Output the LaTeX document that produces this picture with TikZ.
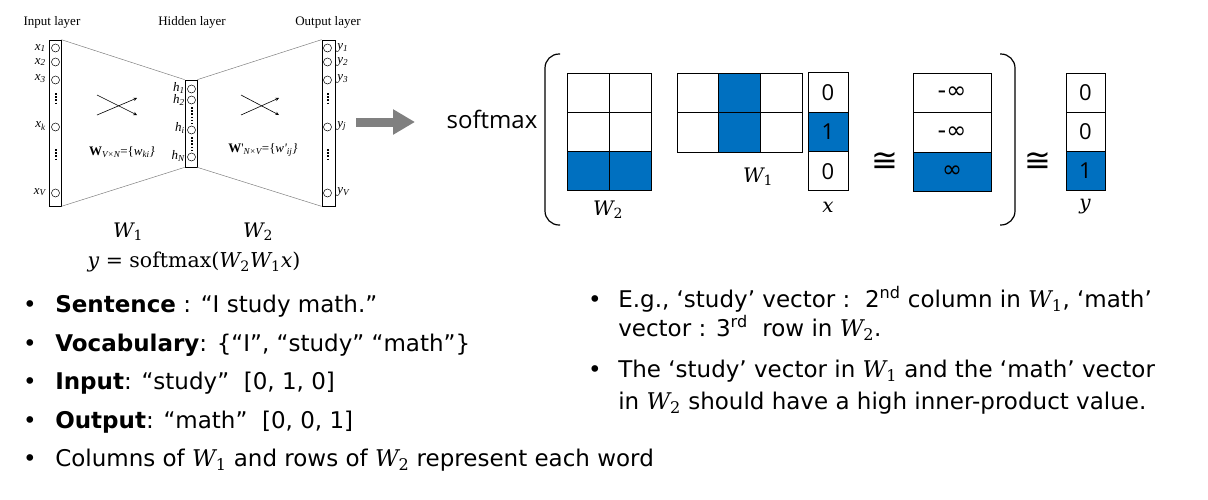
\documentclass[tikz,border=0pt]{standalone}
\usepackage{fontspec}
\setmainfont{DejaVu Sans}
\newfontfamily\netfont{Liberation Serif}
\newfontfamily\eqfont{DejaVu Serif}
\newfontfamily\smfont{Open Sans}
\usetikzlibrary{arrows.meta,positioning}
\definecolor{cellblue}{RGB}{0,112,192}
\definecolor{arrowgray}{RGB}{128,128,128}
\newcommand{\nl}[2]{{\itshape #1\textsubscript{#2}}}
\newcommand{\mv}[2]{{\eqfont\itshape #1}\textsubscript{\eqfont #2}}
\newcommand{\ms}[1]{{\eqfont\itshape #1}}
\begin{document}
\begin{tikzpicture}[x=1pt,y=-1pt,>=stealth,line width=0.6pt,
  layerbox/.style={draw,line width=0.7pt,inner sep=0pt,minimum width=12pt},
  unit/.style={draw,circle,inner sep=0pt,minimum size=8pt,line width=0.5pt},
  dots/.style={line width=2pt,dash pattern=on 1.6pt off 1.6pt},
  netlab/.style={inner sep=1pt,font=\netfont\fontsize{13}{15}\selectfont},
  cell/.style={draw,line width=1pt,inner sep=0pt,font=\smfont\fontsize{22}{24}\selectfont},
  bluecell/.style={cell,fill=cellblue},
  mlab/.style={inner sep=0pt,font=\fontsize{20}{24}\selectfont},
  congsym/.style={inner sep=0pt,font=\fontsize{32}{34}\selectfont},
  txt/.style={anchor=west,inner sep=0pt,text height=18pt,text depth=5pt,font=\fontsize{23}{28}\selectfont}]
  \useasboundingbox (0,0) rectangle (1208,499);

  % 층 이름
  \node[netlab] (inname) at (52,22) {Input layer};
  \node[netlab] (hidname) at (192,22) {Hidden layer};
  \node[netlab] (outname) at (328,22) {Output layer};

  % 입력층
  \node[layerbox,minimum height=166pt] (inbox) at (55,123) {};
  \node[unit] (x1) at (55.5,48) {};
  \node[unit] (x2) at (55.5,62) {};
  \node[unit] (x3) at (55.5,80) {};
  \node[unit] (xk) at (55.5,127) {};
  \node[unit] (xV) at (55.5,193) {};
  \draw[dots] (55.5,93) -- (55.5,104);
  \draw[dots] (55.5,149) -- (55.5,160);
  \node[netlab,anchor=east] at (47,48) {\nl{x}{1}};
  \node[netlab,anchor=east] at (47,62) {\nl{x}{2}};
  \node[netlab,anchor=east] at (47,79) {\nl{x}{3}};
  \node[netlab,anchor=east] at (47,126) {\nl{x}{k}};
  \node[netlab,anchor=east] at (47,192) {\nl{x}{V}};

  % 은닉층
  \node[layerbox,minimum height=87pt] (hidbox) at (191,123.5) {};
  \node[unit] (h1) at (191.5,89) {};
  \node[unit] (h2) at (191.5,100) {};
  \node[unit] (hi) at (191.5,130) {};
  \node[unit] (hN) at (191.5,157) {};
  \draw[dots] (191.5,107) -- (191.5,124);
  \draw[dots] (191.5,137) -- (191.5,152);
  \node[netlab,anchor=east] at (186,88) {\nl{h}{1}};
  \node[netlab,anchor=east] at (186,100) {\nl{h}{2}};
  \node[netlab,anchor=east] at (186,128) {\nl{h}{i}};
  \node[netlab,anchor=east] at (186,156) {\nl{h}{N}};

  % 출력층
  \node[layerbox,minimum height=166pt,minimum width=13pt] (outbox) at (328.5,123) {};
  \node[unit] (y1) at (327.5,48) {};
  \node[unit] (y2) at (327.5,62) {};
  \node[unit] (y3) at (327.5,80) {};
  \node[unit] (yj) at (327.5,127) {};
  \node[unit] (yV) at (327.5,193) {};
  \draw[dots] (327.5,93) -- (327.5,104);
  \draw[dots] (327.5,149) -- (327.5,160);
  \node[netlab,anchor=west] at (336,48) {\nl{y}{1}};
  \node[netlab,anchor=west] at (336,62) {\nl{y}{2}};
  \node[netlab,anchor=west] at (336,79) {\nl{y}{3}};
  \node[netlab,anchor=west] at (336,126) {\nl{y}{j}};
  \node[netlab,anchor=west] at (336,192) {\nl{y}{V}};

  % 층 사이 연결
  \draw[gray,line width=0.5pt] (inbox.north east) -- (hidbox.north west);
  \draw[gray,line width=0.5pt] (inbox.south east) -- (hidbox.south west);
  \draw[gray,line width=0.5pt] (hidbox.north east) -- (outbox.north west);
  \draw[gray,line width=0.5pt] (hidbox.south east) -- (outbox.south west);

  % 가중치 표시
  \coordinate (a1) at (97,95);
  \coordinate (a2) at (137,115);
  \coordinate (a3) at (97,115);
  \coordinate (a4) at (137,98);
  \draw[->] (a1) -- (a2);
  \draw[->] (a3) -- (a4);
  \coordinate (b1) at (241,95);
  \coordinate (b2) at (279,115);
  \coordinate (b3) at (241,115);
  \coordinate (b4) at (279,98);
  \draw[->] (b1) -- (b2);
  \draw[->] (b3) -- (b4);
  \node[netlab] (wvn) at (122,152) {\textbf{W}\textsubscript{\itshape V×N}=\{\itshape w\textsubscript{ki}\}};
  \node[netlab] (wnv) at (263,150) {\textbf{W}'\textsubscript{\itshape N×V}=\{\itshape w'\textsubscript{ij}\}};

  % 수식
  \node[mlab] (w1net) at (128,232) {\mv{W}{1}};
  \node[mlab] (w2net) at (258,232) {\mv{W}{2}};
  \node[mlab,font=\eqfont\fontsize{20.5}{24}\selectfont] (eq) at (194,262) {\ms{y} = softmax(\mv{W}{2}\mv{W}{1}\ms{x})};

  % 회색 화살표
  \coordinate (ga) at (356,122);
  \coordinate (gb) at (415,122);
  \draw[arrowgray,line width=9pt,-{Triangle[length=22pt,width=24pt]}] (ga) -- (gb);

  % softmax 와 괄호
  \node[font=\smfont\fontsize{24}{28}\selectfont] (smax) at (492,119) {softmax};
  \draw[line width=1.2pt,rounded corners=14pt] (560,54) -- (545,54) -- (545,225) -- (560,225);
  \draw[line width=1.2pt,rounded corners=14pt] (1000,54) -- (1015,54) -- (1015,225) -- (1000,225);

  % W2 행렬
  \node[cell,minimum width=42pt,minimum height=39pt] (p11) at (588,92.5) {};
  \node[cell,minimum width=42pt,minimum height=39pt] (p12) at (630,92.5) {};
  \node[cell,minimum width=42pt,minimum height=39pt] (p21) at (588,131.5) {};
  \node[cell,minimum width=42pt,minimum height=39pt] (p22) at (630,131.5) {};
  \node[bluecell,minimum width=42pt,minimum height=39pt] (p31) at (588,170.5) {};
  \node[bluecell,minimum width=42pt,minimum height=39pt] (p32) at (630,170.5) {};
  \node[mlab] (w2lab) at (608,210) {\mv{W}{2}};

  % W1 행렬
  \node[cell,minimum width=41.7pt,minimum height=39.5pt] (q11) at (697.85,92.75) {};
  \node[bluecell,minimum width=41.7pt,minimum height=39.5pt] (q12) at (739.55,92.75) {};
  \node[cell,minimum width=41.7pt,minimum height=39.5pt] (q13) at (781.25,92.75) {};
  \node[cell,minimum width=41.7pt,minimum height=39.5pt] (q21) at (697.85,132.25) {};
  \node[bluecell,minimum width=41.7pt,minimum height=39.5pt] (q22) at (739.55,132.25) {};
  \node[cell,minimum width=41.7pt,minimum height=39.5pt] (q23) at (781.25,132.25) {};
  \node[mlab] (w1lab) at (758,177) {\mv{W}{1}};

  % 입력 벡터 x
  \node[cell,minimum width=40pt,minimum height=39.3pt] (x_1) at (828,92.6) {0};
  \node[bluecell,minimum width=40pt,minimum height=39.3pt] (x_2) at (828,131.9) {1};
  \node[cell,minimum width=40pt,minimum height=39.3pt] (x_3) at (828,171.2) {0};
  \node[mlab] (xlab) at (828,207) {\ms{x}};

  \node[congsym] (cong1) at (885,162) {≅};

  % 곱의 결과
  \node[cell,font=\fontsize{24}{26}\selectfont,minimum width=78pt,minimum height=39.6pt] (r1) at (952,92.8) {-∞};
  \node[cell,font=\fontsize{24}{26}\selectfont,minimum width=78pt,minimum height=39.6pt] (r2) at (952,132.4) {-∞};
  \node[bluecell,font=\fontsize{24}{26}\selectfont,minimum width=78pt,minimum height=39.6pt] (r3) at (952,172) {∞};

  \node[congsym] (cong2) at (1038,162) {≅};

  % 출력 벡터 y
  \node[cell,minimum width=39pt,minimum height=39pt] (y_1) at (1085.5,92.5) {0};
  \node[cell,minimum width=39pt,minimum height=39pt] (y_2) at (1085.5,131.5) {0};
  \node[bluecell,minimum width=39pt,minimum height=39pt] (y_3) at (1085.5,170.5) {1};
  \node[mlab] (ylab) at (1085,207) {\ms{y}};

  % 왼쪽 설명
  \node[txt,anchor=center] (bl1) at (30,306) {•};
  \node[txt] (tl1) at (55,306) {\textbf{Sentence} : “I study math.”};
  \node[txt,anchor=center] (bl2) at (30,344.5) {•};
  \node[txt] (tl2) at (55,344.5) {\textbf{Vocabulary}: \{“I”, “study” “math”\}};
  \node[txt,anchor=center] (bl3) at (30,383) {•};
  \node[txt] (tl3) at (55,383) {\textbf{Input}: “study”\ \ [0, 1, 0]};
  \node[txt,anchor=center] (bl4) at (30,421.5) {•};
  \node[txt] (tl4) at (55,421.5) {\textbf{Output}: “math”\ \ [0, 0, 1]};
  \node[txt,anchor=center] (bl5) at (30,460) {•};
  \node[txt] (tl5) at (55,460) {Columns of \mv{W}{1} and rows of \mv{W}{2} represent each word};

  % 오른쪽 설명
  \node[txt,anchor=center] (br1) at (595,301) {•};
  \node[txt] (tr1) at (618,301) {E.g., ‘study’ vector :\ \ 2\textsuperscript{nd} column in \mv{W}{1}, ‘math’};
  \node[txt] (tr2) at (618,330) {vector : 3\textsuperscript{rd}\ \ row in \mv{W}{2}.};
  \node[txt,anchor=center] (br3) at (595,371) {•};
  \node[txt] (tr3) at (618,371) {The ‘study’ vector in \mv{W}{1} and the ‘math’ vector};
  \node[txt] (tr4) at (618,403) {in \mv{W}{2} should have a high inner-product value.};
\end{tikzpicture}
\end{document}
